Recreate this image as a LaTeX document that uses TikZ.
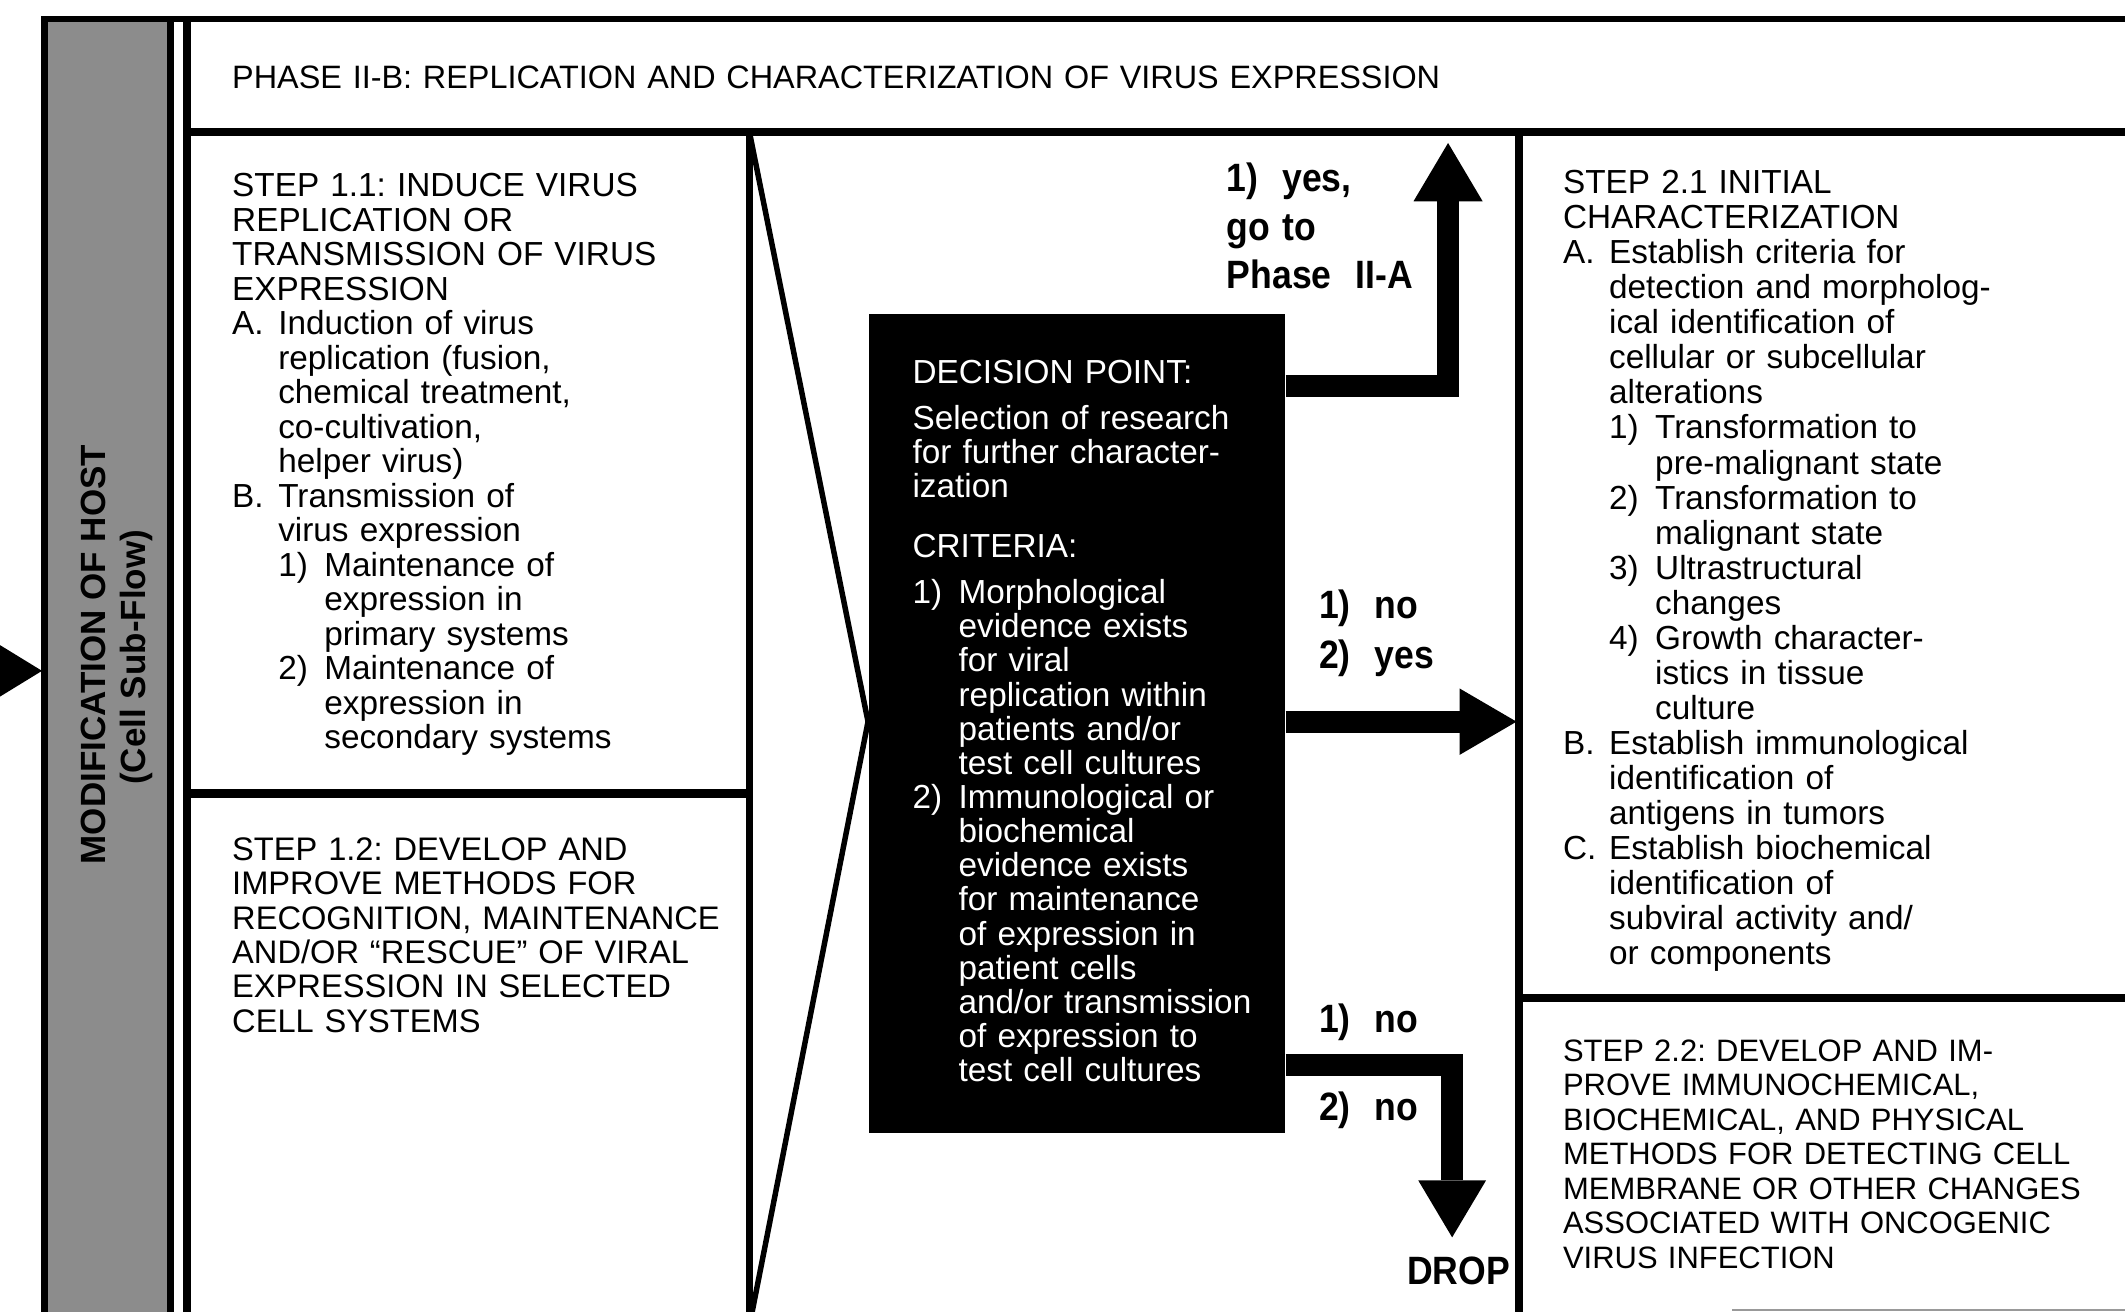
\documentclass[tikz,border=0pt]{standalone}
\usepackage{fontspec}
\setmainfont{Liberation Sans}
\usetikzlibrary{arrows.meta}
\frenchspacing
\newcommand{\itm}[1]{\makebox[0.68cm][l]{#1}}
\newcommand{\indt}{\hspace*{0.68cm}}
\newcommand{\condb}[1]{\scalebox{0.9}[1]{#1}}
\begin{document}
\begin{tikzpicture}[x=0.02cm, y=-0.02cm,
  body/.style={anchor=base west, inner sep=0pt, text width=#1, align=left, font=\fontsize{14}{14.5}\selectfont},
  body/.default=9cm,
  answer/.style={anchor=base west, inner sep=0pt, text width=3cm, align=left, font=\fontsize{16.6}{20.2}\selectfont\bfseries},
  flow/.style={line width=0.33cm, -{Triangle[length=0.86cm, width=1.02cm, line width=0pt]}}]
\useasboundingbox (0,0) rectangle (1568,968);
\clip (0,0) rectangle (1568,968);
% host bar
\fill[black!45] (33,14) rectangle (126,1000);
\draw[line width=2.85pt] (33,1000) -- (33,14) -- (126,14) -- (126,1000);
\draw[line width=2.85pt] (31,14) -- (1568,14);
\fill (0,476) -- (31,495) -- (0,514) -- cycle;
\node[rotate=90, inner sep=0pt, font=\fontsize{14.7}{16}\selectfont\bfseries] (host) at (69,483) {MODIFICATION OF HOST};
\node[rotate=90, inner sep=0pt, font=\fontsize{14.7}{16}\selectfont\bfseries] (hostsub) at (101,485) {(Cell Sub-Flow)};
% frame
\draw[line width=3.4pt] (138,14) -- (138,1000);
\draw[line width=3.4pt] (138,97.5) -- (1568,97.5);
\draw[line width=2.85pt] (553,97.5) -- (553,1000);
\draw[line width=3.4pt] (138,585.5) -- (553,585.5);
\draw[line width=3.4pt] (1121,97.5) -- (1121,1000);
\draw[line width=3.4pt] (1121,736.5) -- (1568,736.5);
\draw[line width=0.8pt, black!40] (1278,966.5) -- (1568,966.5);
\node[body=20cm, font=\fontsize{13.6}{14.5}\selectfont] (phase) at (171,65) {PHASE II-B: REPLICATION AND CHARACTERIZATION OF VIRUS EXPRESSION};
% phase 1 steps
\node[body] (s11) at (171,145) {STEP 1.1: INDUCE VIRUS\\
REPLICATION OR\\
TRANSMISSION OF VIRUS\\
EXPRESSION\\
\itm{A.}Induction of virus\\
\indt replication (fusion,\\
\indt chemical treatment,\\
\indt co-cultivation,\\
\indt helper virus)\\
\itm{B.}Transmission of\\
\indt virus expression\\
\indt\itm{1)}Maintenance of\\
\indt\indt expression in\\
\indt\indt primary systems\\
\indt\itm{2)}Maintenance of\\
\indt\indt expression in\\
\indt\indt secondary systems};
\node[body, font=\fontsize{13.7}{14.4}\selectfont] (s12) at (171,635) {STEP 1.2: DEVELOP AND\\
IMPROVE METHODS FOR\\
RECOGNITION, MAINTENANCE\\
AND/OR “RESCUE” OF VIRAL\\
EXPRESSION IN SELECTED\\
CELL SYSTEMS};
% decision point
\node[fill=black, inner sep=0pt, minimum width=6.15cm, minimum height=12.1cm, anchor=north west] (dec) at (640.5,231) {};
\node[body=6cm, text=white, font=\fontsize{14}{14.34}\selectfont] (dectxt) at (673,283) {DECISION POINT:\\[0.176cm]
Selection of research\\
for further character-\\
ization\\[0.376cm]
CRITERIA:\\[0.176cm]
\itm{1)}Morphological\\
\indt evidence exists\\
\indt for viral\\
\indt replication within\\
\indt patients and/or\\
\indt test cell cultures\\
\itm{2)}Immunological or\\
\indt biochemical\\
\indt evidence exists\\
\indt for maintenance\\
\indt of expression in\\
\indt patient cells\\
\indt and/or transmission\\
\indt of expression to\\
\indt test cell cultures};
\coordinate (toIIA) at (1068.5,105.5);
\coordinate (s21in) at (1119,532.5);
\coordinate (todrop) at (1071.5,913);
\draw[line width=2.3pt] (553,97.5) -- (dec.west |- s21in) -- (555,968);
\draw[flow] (dec.east |- 0,285) -| (toIIA);
\draw[flow, -{Triangle[length=0.84cm, width=0.98cm, line width=0pt]}] (dec.east |- s21in) -- (s21in);
\draw[flow, -{Triangle[length=0.84cm, width=1cm, line width=0pt]}] (dec.east |- 0,786) -| (todrop);
\node[answer] (yes1) at (905,141.6) {\condb{1)\ \ yes,}\\\condb{go to}\\\condb{Phase\ \ II-A}};
\node[answer, font=\fontsize{16.6}{21}\selectfont\bfseries] (noyes) at (973,456) {\condb{1)\ \ no}\\\condb{2)\ \ yes}};
\node[answer] (no1) at (973,761.5) {\condb{1)\ \ no}};
\node[answer] (no2) at (973,826.5) {\condb{2)\ \ no}};
\node[answer] (droplbl) at (1038,948) {\condb{DROP}};
% phase 2 steps
\node[body, font=\fontsize{14}{14.71}\selectfont] (s21) at (1153,143) {STEP 2.1 INITIAL\\
CHARACTERIZATION\\
\itm{A.}Establish criteria for\\
\indt detection and morpholog-\\
\indt ical identification of\\
\indt cellular or subcellular\\
\indt alterations\\
\indt\itm{1)}Transformation to\\
\indt\indt pre-malignant state\\
\indt\itm{2)}Transformation to\\
\indt\indt malignant state\\
\indt\itm{3)}Ultrastructural\\
\indt\indt changes\\
\indt\itm{4)}Growth character-\\
\indt\indt istics in tissue\\
\indt\indt culture\\
\itm{B.}Establish immunological\\
\indt identification of\\
\indt antigens in tumors\\
\itm{C.}Establish biochemical\\
\indt identification of\\
\indt subviral activity and/\\
\indt or components};
\node[body, font=\fontsize{13}{14.5}\selectfont] (s22) at (1153,783) {STEP 2.2: DEVELOP AND IM-\\
PROVE IMMUNOCHEMICAL,\\
BIOCHEMICAL, AND PHYSICAL\\
METHODS FOR DETECTING CELL\\
MEMBRANE OR OTHER CHANGES\\
ASSOCIATED WITH ONCOGENIC\\
VIRUS INFECTION};
\end{tikzpicture}
\end{document}
